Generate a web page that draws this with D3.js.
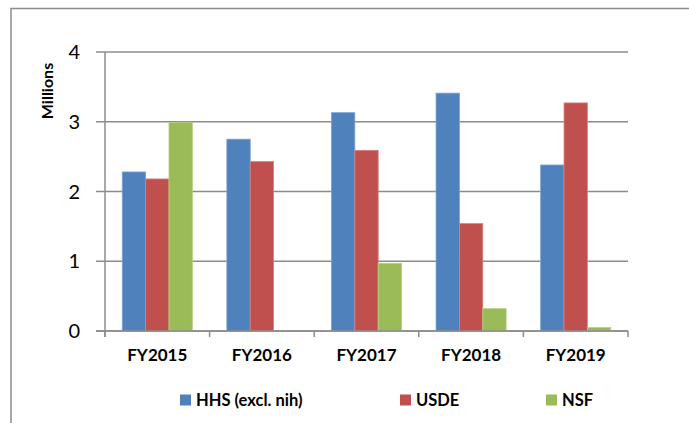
<!DOCTYPE html>
<html>
<head>
<meta charset="utf-8">
<script src="https://cdn.jsdelivr.net/npm/d3@7"></script>
<style>
  body { margin: 0; background: #fff; }
  svg { font-family: Lato, "Open Sans", sans-serif; }
</style>
</head>
<body>
<svg></svg>
<script>
var width = 689;
var height = 423;

var years = ['FY2015', 'FY2016', 'FY2017', 'FY2018', 'FY2019'];
var seriesNames = ['HHS (excl. nih)', 'USDE', 'NSF'];
var hhs = [2.28, 2.75, 3.13, 3.41, 2.38];
var usde = [2.18, 2.43, 2.59, 1.54, 3.27];
var nsf = [2.99, 0, 0.97, 0.32, 0.05];
var yTicks = [0, 1, 2, 3, 4];

var colors = ['#4F81BD', '#C0504D', '#9BBB59'];
var strokes = ['#7aa1d2', '#d9827f', '#b5d07e'];

var margin = {left: 105, right: 61, top: 52, bottom: 92};
var plotW = width - margin.left - margin.right;
var plotH = height - margin.top - margin.bottom;

var rows = years.map((y, i) => ({year: y, values: [hhs[i], usde[i], nsf[i]]}));

var svg = d3.select('svg')
            .attr('width', width)
            .attr('height', height);

// outer chart frame (runs off right and bottom)
svg.append('path')
    .attr('d', `M11,${height + 5}V8.5H${width + 5}`)
    .attr('fill', 'none')
    .attr('stroke', '#8c8c8c')
    .attr('stroke-width', 1.5);

var x = d3.scaleBand()
            .domain(years)
            .range([0, plotW]);

var inner = d3.scaleBand()
            .domain(d3.range(3))
            .range([x.bandwidth() * 0.165, x.bandwidth() * 0.835]);

var y = d3.scaleLinear()
            .domain([0, 4])
            .range([plotH, 0]);

var g = svg.append('g')
    .attr('transform', `translate(${margin.left}, ${margin.top})`);

// gridlines + y tick labels
g.selectAll('.grid')
    .data(yTicks)
    .enter()
    .append('line')
        .attr('x1', -9)
        .attr('x2', plotW)
        .attr('y1', d => y(d))
        .attr('y2', d => y(d))
        .attr('stroke', '#8c8c8c')
        .attr('stroke-width', 1.5);

g.selectAll('.ylab')
    .data(yTicks)
    .enter()
    .append('text')
        .attr('x', -25)
        .attr('y', d => y(d))
        .attr('dy', '0.36em')
        .style('text-anchor', 'end')
        .style('font-size', '20px')
        .attr('fill', '#000')
        .text(d => d);

// bars
var groups = g.selectAll('.year')
    .data(rows)
    .enter()
    .append('g')
        .attr('transform', d => `translate(${x(d.year)}, 0)`);

groups.selectAll('rect')
    .data(d => d.values)
    .enter()
    .append('rect')
        .attr('x', (d, i) => inner(i))
        .attr('width', inner.bandwidth())
        .attr('y', d => y(d))
        .attr('height', d => plotH - y(d))
        .attr('fill', (d, i) => colors[i])
        .attr('stroke', (d, i) => d > 0 ? strokes[i] : 'none')
        .attr('stroke-width', 0.8);

// axes lines
g.append('line')
    .attr('x1', 0).attr('x2', 0)
    .attr('y1', 0).attr('y2', plotH + 6)
    .attr('stroke', '#8c8c8c')
    .attr('stroke-width', 1.5);

g.append('line')
    .attr('x1', -9).attr('x2', plotW)
    .attr('y1', plotH).attr('y2', plotH)
    .attr('stroke', '#8c8c8c')
    .attr('stroke-width', 1.5);

var xTickPos = years.map(d => x(d)).concat([plotW]);
g.selectAll('.xtick')
    .data(xTickPos)
    .enter()
    .append('line')
        .attr('x1', d => d).attr('x2', d => d)
        .attr('y1', plotH).attr('y2', plotH + 6)
        .attr('stroke', '#8c8c8c')
        .attr('stroke-width', 1.5);

g.selectAll('.xlab')
    .data(years)
    .enter()
    .append('text')
        .attr('x', d => x(d) + x.bandwidth() / 2)
        .attr('y', plotH + 24)
        .attr('dy', '0.36em')
        .style('text-anchor', 'middle')
        .style('font-size', '17px')
        .style('font-weight', 'bold')
        .text(d => d);

// y axis title
svg.append('text')
    .attr('transform', 'translate(53, 91) rotate(-90)')
    .style('text-anchor', 'middle')
    .style('font-size', '16px')
    .style('font-weight', 'bold')
    .text('Millions');

// legend
var legendX = [180, 400, 546];
var legend = svg.selectAll('.legend')
    .data(seriesNames)
    .enter()
    .append('g')
        .attr('transform', (d, i) => `translate(${legendX[i]}, 400)`);

legend.append('rect')
    .attr('x', 0)
    .attr('y', -5.5)
    .attr('width', 11)
    .attr('height', 11)
    .attr('fill', (d, i) => colors[i]);

legend.append('text')
    .attr('x', 16)
    .attr('y', 0)
    .attr('dy', '0.36em')
    .style('font-size', '16.5px')
    .style('font-weight', 'bold')
    .text(d => d);
</script>
</body>
</html>
